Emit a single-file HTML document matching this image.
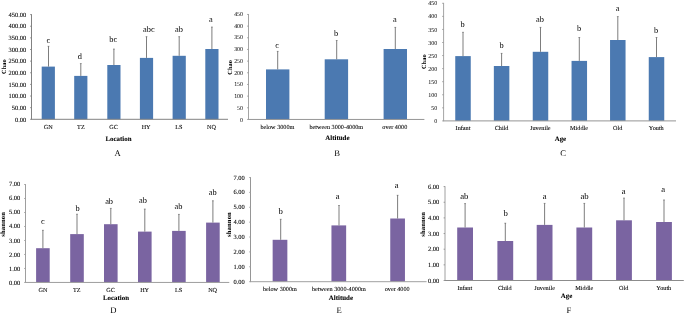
<!DOCTYPE html>
<html><head><meta charset="utf-8"><title>Figure</title>
<style>
html,body{margin:0;padding:0;background:#fff;}
svg{display:block;font-family:"Liberation Serif", "DejaVu Serif", serif;text-rendering:geometricPrecision;}
</style></head><body>
<svg width="685" height="314" viewBox="0 0 685 314">
<defs><filter id="soft" x="0" y="0" width="685" height="314" filterUnits="userSpaceOnUse"><feGaussianBlur stdDeviation="0.0"/></filter></defs>
<rect width="685" height="314" fill="#ffffff"/>
<g filter="url(#soft)">
<rect x="41.70" y="66.60" width="13.20" height="52.70" fill="#4b79b1"/>
<line x1="48.50" y1="66.60" x2="48.50" y2="46.10" stroke="#666666" stroke-width="0.85"/>
<line x1="47.60" y1="46.30" x2="49.40" y2="46.30" stroke="#666666" stroke-width="0.6"/>
<text x="48.30" y="42.60" font-size="8.35" text-anchor="middle" fill="#000000" stroke="#000000" stroke-width="0.0">c</text>
<rect x="74.20" y="75.90" width="13.20" height="43.40" fill="#4b79b1"/>
<line x1="80.80" y1="75.90" x2="80.80" y2="63.40" stroke="#666666" stroke-width="0.85"/>
<line x1="79.90" y1="63.60" x2="81.70" y2="63.60" stroke="#666666" stroke-width="0.6"/>
<text x="79.80" y="58.70" font-size="8.35" text-anchor="middle" fill="#000000" stroke="#000000" stroke-width="0.0">d</text>
<rect x="107.30" y="65.00" width="13.20" height="54.30" fill="#4b79b1"/>
<line x1="113.90" y1="65.00" x2="113.90" y2="48.90" stroke="#666666" stroke-width="0.85"/>
<line x1="113.00" y1="49.10" x2="114.80" y2="49.10" stroke="#666666" stroke-width="0.6"/>
<text x="113.30" y="42.40" font-size="8.35" text-anchor="middle" fill="#000000" stroke="#000000" stroke-width="0.0">bc</text>
<rect x="139.90" y="57.90" width="13.20" height="61.40" fill="#4b79b1"/>
<line x1="146.50" y1="57.90" x2="146.50" y2="36.50" stroke="#666666" stroke-width="0.85"/>
<line x1="145.60" y1="36.70" x2="147.40" y2="36.70" stroke="#666666" stroke-width="0.6"/>
<text x="148.90" y="31.70" font-size="8.35" text-anchor="middle" fill="#000000" stroke="#000000" stroke-width="0.0">abc</text>
<rect x="172.60" y="55.80" width="13.20" height="63.50" fill="#4b79b1"/>
<line x1="179.20" y1="55.80" x2="179.20" y2="36.50" stroke="#666666" stroke-width="0.85"/>
<line x1="178.30" y1="36.70" x2="180.10" y2="36.70" stroke="#666666" stroke-width="0.6"/>
<text x="178.90" y="31.70" font-size="8.35" text-anchor="middle" fill="#000000" stroke="#000000" stroke-width="0.0">ab</text>
<rect x="205.30" y="49.00" width="13.20" height="70.30" fill="#4b79b1"/>
<line x1="211.90" y1="49.00" x2="211.90" y2="26.90" stroke="#666666" stroke-width="0.85"/>
<line x1="211.00" y1="27.10" x2="212.80" y2="27.10" stroke="#666666" stroke-width="0.6"/>
<text x="210.90" y="22.10" font-size="8.35" text-anchor="middle" fill="#000000" stroke="#000000" stroke-width="0.0">a</text>
<line x1="31.50" y1="14.20" x2="31.50" y2="119.75" stroke="#828282" stroke-width="1.0"/>
<line x1="31.50" y1="119.30" x2="228.00" y2="119.30" stroke="#828282" stroke-width="1.0"/>
<line x1="30.10" y1="119.30" x2="31.50" y2="119.30" stroke="#828282" stroke-width="0.85"/>
<text x="26.20" y="121.70" font-size="6.45" text-anchor="end" fill="#000000" stroke="#000000" stroke-width="0.09">0.00</text>
<line x1="30.10" y1="107.67" x2="31.50" y2="107.67" stroke="#828282" stroke-width="0.85"/>
<text x="26.20" y="110.02" font-size="6.45" text-anchor="end" fill="#000000" stroke="#000000" stroke-width="0.09">50.00</text>
<line x1="30.10" y1="96.03" x2="31.50" y2="96.03" stroke="#828282" stroke-width="0.85"/>
<text x="26.20" y="98.34" font-size="6.45" text-anchor="end" fill="#000000" stroke="#000000" stroke-width="0.09">100.00</text>
<line x1="30.10" y1="84.40" x2="31.50" y2="84.40" stroke="#828282" stroke-width="0.85"/>
<text x="26.20" y="86.67" font-size="6.45" text-anchor="end" fill="#000000" stroke="#000000" stroke-width="0.09">150.00</text>
<line x1="30.10" y1="72.77" x2="31.50" y2="72.77" stroke="#828282" stroke-width="0.85"/>
<text x="26.20" y="74.99" font-size="6.45" text-anchor="end" fill="#000000" stroke="#000000" stroke-width="0.09">200.00</text>
<line x1="30.10" y1="61.13" x2="31.50" y2="61.13" stroke="#828282" stroke-width="0.85"/>
<text x="26.20" y="63.31" font-size="6.45" text-anchor="end" fill="#000000" stroke="#000000" stroke-width="0.09">250.00</text>
<line x1="30.10" y1="49.50" x2="31.50" y2="49.50" stroke="#828282" stroke-width="0.85"/>
<text x="26.20" y="51.63" font-size="6.45" text-anchor="end" fill="#000000" stroke="#000000" stroke-width="0.09">300.00</text>
<line x1="30.10" y1="37.87" x2="31.50" y2="37.87" stroke="#828282" stroke-width="0.85"/>
<text x="26.20" y="39.96" font-size="6.45" text-anchor="end" fill="#000000" stroke="#000000" stroke-width="0.09">350.00</text>
<line x1="30.10" y1="26.23" x2="31.50" y2="26.23" stroke="#828282" stroke-width="0.85"/>
<text x="26.20" y="28.28" font-size="6.45" text-anchor="end" fill="#000000" stroke="#000000" stroke-width="0.09">400.00</text>
<line x1="30.10" y1="14.60" x2="31.50" y2="14.60" stroke="#828282" stroke-width="0.85"/>
<text x="26.20" y="16.60" font-size="6.45" text-anchor="end" fill="#000000" stroke="#000000" stroke-width="0.09">450.00</text>
<text x="48.30" y="129.10" font-size="6.2" text-anchor="middle" fill="#000000" stroke="#000000" stroke-width="0.08">GN</text>
<text x="80.90" y="129.10" font-size="6.2" text-anchor="middle" fill="#000000" stroke="#000000" stroke-width="0.08">TZ</text>
<text x="113.50" y="129.10" font-size="6.2" text-anchor="middle" fill="#000000" stroke="#000000" stroke-width="0.08">GC</text>
<text x="146.10" y="129.10" font-size="6.2" text-anchor="middle" fill="#000000" stroke="#000000" stroke-width="0.08">HY</text>
<text x="178.90" y="129.10" font-size="6.2" text-anchor="middle" fill="#000000" stroke="#000000" stroke-width="0.08">LS</text>
<text x="211.50" y="129.10" font-size="6.2" text-anchor="middle" fill="#000000" stroke="#000000" stroke-width="0.08">NQ</text>
<text x="118.50" y="141.20" font-size="6.9" text-anchor="middle" font-weight="bold" fill="#000000" stroke="#000000" stroke-width="0.08">Location</text>
<text x="6.50" y="66.60" font-size="6.3" text-anchor="middle" font-weight="bold" transform="rotate(-90 6.50 66.60)" fill="#000000" stroke="#000000" stroke-width="0.0" letter-spacing="0.1">Chao</text>
<text x="117.50" y="155.70" font-size="8.6" text-anchor="middle" fill="#000000" stroke="#000000" stroke-width="0.0">A</text>
<rect x="266.00" y="69.40" width="23.40" height="50.05" fill="#4b79b1"/>
<line x1="277.70" y1="69.40" x2="277.70" y2="51.20" stroke="#666666" stroke-width="0.85"/>
<line x1="276.80" y1="51.40" x2="278.60" y2="51.40" stroke="#666666" stroke-width="0.6"/>
<text x="277.20" y="47.80" font-size="8.35" text-anchor="middle" fill="#000000" stroke="#000000" stroke-width="0.0">c</text>
<rect x="324.70" y="59.30" width="23.40" height="60.15" fill="#4b79b1"/>
<line x1="336.70" y1="59.30" x2="336.70" y2="40.30" stroke="#666666" stroke-width="0.85"/>
<line x1="335.80" y1="40.50" x2="337.60" y2="40.50" stroke="#666666" stroke-width="0.6"/>
<text x="336.00" y="36.00" font-size="8.35" text-anchor="middle" fill="#000000" stroke="#000000" stroke-width="0.0">b</text>
<rect x="383.60" y="49.00" width="23.40" height="70.45" fill="#4b79b1"/>
<line x1="395.30" y1="49.00" x2="395.30" y2="27.20" stroke="#666666" stroke-width="0.85"/>
<line x1="394.40" y1="27.40" x2="396.20" y2="27.40" stroke="#666666" stroke-width="0.6"/>
<text x="394.80" y="22.20" font-size="8.35" text-anchor="middle" fill="#000000" stroke="#000000" stroke-width="0.0">a</text>
<line x1="248.50" y1="14.05" x2="248.50" y2="119.90" stroke="#a4a4a4" stroke-width="1.0"/>
<line x1="248.50" y1="119.45" x2="424.40" y2="119.45" stroke="#959595" stroke-width="1.0"/>
<line x1="247.10" y1="119.45" x2="248.50" y2="119.45" stroke="#959595" stroke-width="0.85"/>
<text x="243.00" y="121.55" font-size="5.9" text-anchor="end" fill="#111" stroke="#111" stroke-width="0.03">0</text>
<line x1="247.10" y1="107.78" x2="248.50" y2="107.78" stroke="#959595" stroke-width="0.85"/>
<text x="243.00" y="109.82" font-size="5.9" text-anchor="end" fill="#111" stroke="#111" stroke-width="0.03">50</text>
<line x1="247.10" y1="96.12" x2="248.50" y2="96.12" stroke="#959595" stroke-width="0.85"/>
<text x="243.00" y="98.08" font-size="5.9" text-anchor="end" fill="#111" stroke="#111" stroke-width="0.03">100</text>
<line x1="247.10" y1="84.45" x2="248.50" y2="84.45" stroke="#959595" stroke-width="0.85"/>
<text x="243.00" y="86.35" font-size="5.9" text-anchor="end" fill="#111" stroke="#111" stroke-width="0.03">150</text>
<line x1="247.10" y1="72.78" x2="248.50" y2="72.78" stroke="#959595" stroke-width="0.85"/>
<text x="243.00" y="74.62" font-size="5.9" text-anchor="end" fill="#111" stroke="#111" stroke-width="0.03">200</text>
<line x1="247.10" y1="61.12" x2="248.50" y2="61.12" stroke="#959595" stroke-width="0.85"/>
<text x="243.00" y="62.88" font-size="5.9" text-anchor="end" fill="#111" stroke="#111" stroke-width="0.03">250</text>
<line x1="247.10" y1="49.45" x2="248.50" y2="49.45" stroke="#959595" stroke-width="0.85"/>
<text x="243.00" y="51.15" font-size="5.9" text-anchor="end" fill="#111" stroke="#111" stroke-width="0.03">300</text>
<line x1="247.10" y1="37.78" x2="248.50" y2="37.78" stroke="#959595" stroke-width="0.85"/>
<text x="243.00" y="39.42" font-size="5.9" text-anchor="end" fill="#111" stroke="#111" stroke-width="0.03">350</text>
<line x1="247.10" y1="26.12" x2="248.50" y2="26.12" stroke="#959595" stroke-width="0.85"/>
<text x="243.00" y="27.68" font-size="5.9" text-anchor="end" fill="#111" stroke="#111" stroke-width="0.03">400</text>
<line x1="247.10" y1="14.45" x2="248.50" y2="14.45" stroke="#959595" stroke-width="0.85"/>
<text x="243.00" y="15.95" font-size="5.9" text-anchor="end" fill="#111" stroke="#111" stroke-width="0.03">450</text>
<text x="277.40" y="129.00" font-size="6.2" text-anchor="middle" fill="#000000" stroke="#000000" stroke-width="0.08">below 3000m</text>
<text x="336.30" y="129.00" font-size="6.2" text-anchor="middle" fill="#000000" stroke="#000000" stroke-width="0.08">between 3000-4000m</text>
<text x="394.80" y="129.00" font-size="6.2" text-anchor="middle" fill="#000000" stroke="#000000" stroke-width="0.08">over 4000</text>
<text x="337.40" y="140.00" font-size="6.9" text-anchor="middle" font-weight="bold" fill="#000000" stroke="#000000" stroke-width="0.08">Altitude</text>
<text x="232.00" y="67.30" font-size="6.3" text-anchor="middle" font-weight="bold" transform="rotate(-90 232.00 67.30)" fill="#000000" stroke="#000000" stroke-width="0.0" letter-spacing="0.1">Chao</text>
<text x="337.00" y="156.00" font-size="8.6" text-anchor="middle" fill="#000000" stroke="#000000" stroke-width="0.0">B</text>
<rect x="455.25" y="56.10" width="15.50" height="64.80" fill="#4b79b1"/>
<line x1="463.00" y1="56.10" x2="463.00" y2="32.10" stroke="#666666" stroke-width="0.85"/>
<line x1="462.10" y1="32.30" x2="463.90" y2="32.30" stroke="#666666" stroke-width="0.6"/>
<text x="462.60" y="27.40" font-size="8.35" text-anchor="middle" fill="#000000" stroke="#000000" stroke-width="0.0">b</text>
<rect x="493.85" y="66.00" width="15.50" height="54.90" fill="#4b79b1"/>
<line x1="501.60" y1="66.00" x2="501.60" y2="53.20" stroke="#666666" stroke-width="0.85"/>
<line x1="500.70" y1="53.40" x2="502.50" y2="53.40" stroke="#666666" stroke-width="0.6"/>
<text x="501.60" y="47.50" font-size="8.35" text-anchor="middle" fill="#000000" stroke="#000000" stroke-width="0.0">b</text>
<rect x="532.75" y="51.80" width="15.50" height="69.10" fill="#4b79b1"/>
<line x1="540.50" y1="51.80" x2="540.50" y2="27.20" stroke="#666666" stroke-width="0.85"/>
<line x1="539.60" y1="27.40" x2="541.40" y2="27.40" stroke="#666666" stroke-width="0.6"/>
<text x="540.00" y="22.00" font-size="8.35" text-anchor="middle" fill="#000000" stroke="#000000" stroke-width="0.0">ab</text>
<rect x="571.55" y="60.90" width="15.50" height="60.00" fill="#4b79b1"/>
<line x1="579.30" y1="60.90" x2="579.30" y2="37.30" stroke="#666666" stroke-width="0.85"/>
<line x1="578.40" y1="37.50" x2="580.20" y2="37.50" stroke="#666666" stroke-width="0.6"/>
<text x="579.00" y="31.40" font-size="8.35" text-anchor="middle" fill="#000000" stroke="#000000" stroke-width="0.0">b</text>
<rect x="610.05" y="40.00" width="15.50" height="80.90" fill="#4b79b1"/>
<line x1="617.80" y1="40.00" x2="617.80" y2="16.40" stroke="#666666" stroke-width="0.85"/>
<line x1="616.90" y1="16.60" x2="618.70" y2="16.60" stroke="#666666" stroke-width="0.6"/>
<text x="617.50" y="11.20" font-size="8.35" text-anchor="middle" fill="#000000" stroke="#000000" stroke-width="0.0">a</text>
<rect x="648.75" y="57.10" width="15.50" height="63.80" fill="#4b79b1"/>
<line x1="656.50" y1="57.10" x2="656.50" y2="37.30" stroke="#666666" stroke-width="0.85"/>
<line x1="655.60" y1="37.50" x2="657.40" y2="37.50" stroke="#666666" stroke-width="0.6"/>
<text x="656.10" y="33.10" font-size="8.35" text-anchor="middle" fill="#000000" stroke="#000000" stroke-width="0.0">b</text>
<line x1="443.60" y1="2.90" x2="443.60" y2="121.35" stroke="#a4a4a4" stroke-width="1.0"/>
<line x1="443.60" y1="120.90" x2="676.00" y2="120.90" stroke="#949494" stroke-width="1.0"/>
<line x1="442.20" y1="120.90" x2="443.60" y2="120.90" stroke="#949494" stroke-width="0.85"/>
<text x="437.20" y="123.00" font-size="6.0" text-anchor="end" fill="#111" stroke="#111" stroke-width="0.03">0</text>
<line x1="442.20" y1="107.83" x2="443.60" y2="107.83" stroke="#949494" stroke-width="0.85"/>
<text x="437.20" y="109.93" font-size="6.0" text-anchor="end" fill="#111" stroke="#111" stroke-width="0.03">50</text>
<line x1="442.20" y1="94.77" x2="443.60" y2="94.77" stroke="#949494" stroke-width="0.85"/>
<text x="437.20" y="96.87" font-size="6.0" text-anchor="end" fill="#111" stroke="#111" stroke-width="0.03">100</text>
<line x1="442.20" y1="81.70" x2="443.60" y2="81.70" stroke="#949494" stroke-width="0.85"/>
<text x="437.20" y="83.80" font-size="6.0" text-anchor="end" fill="#111" stroke="#111" stroke-width="0.03">150</text>
<line x1="442.20" y1="68.63" x2="443.60" y2="68.63" stroke="#949494" stroke-width="0.85"/>
<text x="437.20" y="70.73" font-size="6.0" text-anchor="end" fill="#111" stroke="#111" stroke-width="0.03">200</text>
<line x1="442.20" y1="55.57" x2="443.60" y2="55.57" stroke="#949494" stroke-width="0.85"/>
<text x="437.20" y="57.67" font-size="6.0" text-anchor="end" fill="#111" stroke="#111" stroke-width="0.03">250</text>
<line x1="442.20" y1="42.50" x2="443.60" y2="42.50" stroke="#949494" stroke-width="0.85"/>
<text x="437.20" y="44.60" font-size="6.0" text-anchor="end" fill="#111" stroke="#111" stroke-width="0.03">300</text>
<line x1="442.20" y1="29.43" x2="443.60" y2="29.43" stroke="#949494" stroke-width="0.85"/>
<text x="437.20" y="31.53" font-size="6.0" text-anchor="end" fill="#111" stroke="#111" stroke-width="0.03">350</text>
<line x1="442.20" y1="16.37" x2="443.60" y2="16.37" stroke="#949494" stroke-width="0.85"/>
<text x="437.20" y="18.47" font-size="6.0" text-anchor="end" fill="#111" stroke="#111" stroke-width="0.03">400</text>
<line x1="442.20" y1="3.30" x2="443.60" y2="3.30" stroke="#949494" stroke-width="0.85"/>
<text x="437.20" y="5.40" font-size="6.0" text-anchor="end" fill="#111" stroke="#111" stroke-width="0.03">450</text>
<text x="463.00" y="130.20" font-size="6.2" text-anchor="middle" fill="#000000" stroke="#000000" stroke-width="0.08">Infant</text>
<text x="501.60" y="130.20" font-size="6.2" text-anchor="middle" fill="#000000" stroke="#000000" stroke-width="0.08">Child</text>
<text x="540.30" y="130.20" font-size="6.2" text-anchor="middle" fill="#000000" stroke="#000000" stroke-width="0.08">Juvenile</text>
<text x="579.00" y="130.20" font-size="6.2" text-anchor="middle" fill="#000000" stroke="#000000" stroke-width="0.08">Middle</text>
<text x="617.60" y="130.20" font-size="6.2" text-anchor="middle" fill="#000000" stroke="#000000" stroke-width="0.08">Old</text>
<text x="656.30" y="130.20" font-size="6.2" text-anchor="middle" fill="#000000" stroke="#000000" stroke-width="0.08">Youth</text>
<text x="560.40" y="141.40" font-size="6.9" text-anchor="middle" font-weight="bold" fill="#000000" stroke="#000000" stroke-width="0.08">Age</text>
<text x="425.90" y="61.70" font-size="6.3" text-anchor="middle" font-weight="bold" transform="rotate(-90 425.90 61.70)" fill="#000000" stroke="#000000" stroke-width="0.0" letter-spacing="0.1">Chao</text>
<text x="563.10" y="156.00" font-size="8.6" text-anchor="middle" fill="#000000" stroke="#000000" stroke-width="0.0">C</text>
<rect x="36.10" y="248.20" width="13.60" height="34.25" fill="#7a64a1"/>
<line x1="42.90" y1="248.20" x2="42.90" y2="230.10" stroke="#666666" stroke-width="0.85"/>
<line x1="42.00" y1="230.30" x2="43.80" y2="230.30" stroke="#666666" stroke-width="0.6"/>
<text x="42.90" y="224.30" font-size="8.35" text-anchor="middle" fill="#000000" stroke="#000000" stroke-width="0.0">c</text>
<rect x="70.20" y="234.10" width="13.60" height="48.35" fill="#7a64a1"/>
<line x1="77.00" y1="234.10" x2="77.00" y2="214.00" stroke="#666666" stroke-width="0.85"/>
<line x1="76.10" y1="214.20" x2="77.90" y2="214.20" stroke="#666666" stroke-width="0.6"/>
<text x="77.60" y="211.20" font-size="8.35" text-anchor="middle" fill="#000000" stroke="#000000" stroke-width="0.0">b</text>
<rect x="104.00" y="224.20" width="13.60" height="58.25" fill="#7a64a1"/>
<line x1="110.80" y1="224.20" x2="110.80" y2="208.20" stroke="#666666" stroke-width="0.85"/>
<line x1="109.90" y1="208.40" x2="111.70" y2="208.40" stroke="#666666" stroke-width="0.6"/>
<text x="109.10" y="204.20" font-size="8.35" text-anchor="middle" fill="#000000" stroke="#000000" stroke-width="0.0">ab</text>
<rect x="138.00" y="231.60" width="13.60" height="50.85" fill="#7a64a1"/>
<line x1="144.80" y1="231.60" x2="144.80" y2="208.90" stroke="#666666" stroke-width="0.85"/>
<line x1="143.90" y1="209.10" x2="145.70" y2="209.10" stroke="#666666" stroke-width="0.6"/>
<text x="143.00" y="202.70" font-size="8.35" text-anchor="middle" fill="#000000" stroke="#000000" stroke-width="0.0">ab</text>
<rect x="172.10" y="230.90" width="13.60" height="51.55" fill="#7a64a1"/>
<line x1="178.90" y1="230.90" x2="178.90" y2="214.20" stroke="#666666" stroke-width="0.85"/>
<line x1="178.00" y1="214.40" x2="179.80" y2="214.40" stroke="#666666" stroke-width="0.6"/>
<text x="178.40" y="208.90" font-size="8.35" text-anchor="middle" fill="#000000" stroke="#000000" stroke-width="0.0">ab</text>
<rect x="206.10" y="222.60" width="13.60" height="59.85" fill="#7a64a1"/>
<line x1="212.90" y1="222.60" x2="212.90" y2="200.60" stroke="#666666" stroke-width="0.85"/>
<line x1="212.00" y1="200.80" x2="213.80" y2="200.80" stroke="#666666" stroke-width="0.6"/>
<text x="212.80" y="194.60" font-size="8.35" text-anchor="middle" fill="#000000" stroke="#000000" stroke-width="0.0">ab</text>
<line x1="25.50" y1="184.10" x2="25.50" y2="282.90" stroke="#9e9e9e" stroke-width="1.0"/>
<line x1="25.50" y1="282.45" x2="229.30" y2="282.45" stroke="#9e9e9e" stroke-width="1.0"/>
<line x1="24.10" y1="282.45" x2="25.50" y2="282.45" stroke="#9e9e9e" stroke-width="0.85"/>
<text x="20.20" y="284.65" font-size="6.45" text-anchor="end" fill="#000000" stroke="#000000" stroke-width="0.09">0.00</text>
<line x1="24.10" y1="268.46" x2="25.50" y2="268.46" stroke="#9e9e9e" stroke-width="0.85"/>
<text x="20.20" y="270.60" font-size="6.45" text-anchor="end" fill="#000000" stroke="#000000" stroke-width="0.09">1.00</text>
<line x1="24.10" y1="254.46" x2="25.50" y2="254.46" stroke="#9e9e9e" stroke-width="0.85"/>
<text x="20.20" y="256.55" font-size="6.45" text-anchor="end" fill="#000000" stroke="#000000" stroke-width="0.09">2.00</text>
<line x1="24.10" y1="240.47" x2="25.50" y2="240.47" stroke="#9e9e9e" stroke-width="0.85"/>
<text x="20.20" y="242.50" font-size="6.45" text-anchor="end" fill="#000000" stroke="#000000" stroke-width="0.09">3.00</text>
<line x1="24.10" y1="226.48" x2="25.50" y2="226.48" stroke="#9e9e9e" stroke-width="0.85"/>
<text x="20.20" y="228.45" font-size="6.45" text-anchor="end" fill="#000000" stroke="#000000" stroke-width="0.09">4.00</text>
<line x1="24.10" y1="212.49" x2="25.50" y2="212.49" stroke="#9e9e9e" stroke-width="0.85"/>
<text x="20.20" y="214.40" font-size="6.45" text-anchor="end" fill="#000000" stroke="#000000" stroke-width="0.09">5.00</text>
<line x1="24.10" y1="198.49" x2="25.50" y2="198.49" stroke="#9e9e9e" stroke-width="0.85"/>
<text x="20.20" y="200.35" font-size="6.45" text-anchor="end" fill="#000000" stroke="#000000" stroke-width="0.09">6.00</text>
<line x1="24.10" y1="184.50" x2="25.50" y2="184.50" stroke="#9e9e9e" stroke-width="0.85"/>
<text x="20.20" y="186.30" font-size="6.45" text-anchor="end" fill="#000000" stroke="#000000" stroke-width="0.09">7.00</text>
<text x="42.90" y="292.40" font-size="6.2" text-anchor="middle" fill="#000000" stroke="#000000" stroke-width="0.08">GN</text>
<text x="76.80" y="292.40" font-size="6.2" text-anchor="middle" fill="#000000" stroke="#000000" stroke-width="0.08">TZ</text>
<text x="110.60" y="292.40" font-size="6.2" text-anchor="middle" fill="#000000" stroke="#000000" stroke-width="0.08">GC</text>
<text x="144.60" y="292.40" font-size="6.2" text-anchor="middle" fill="#000000" stroke="#000000" stroke-width="0.08">HY</text>
<text x="178.60" y="292.40" font-size="6.2" text-anchor="middle" fill="#000000" stroke="#000000" stroke-width="0.08">LS</text>
<text x="212.60" y="292.40" font-size="6.2" text-anchor="middle" fill="#000000" stroke="#000000" stroke-width="0.08">NQ</text>
<text x="116.00" y="300.20" font-size="6.9" text-anchor="middle" font-weight="bold" fill="#000000" stroke="#000000" stroke-width="0.08">Location</text>
<text x="5.40" y="224.30" font-size="6.7" text-anchor="middle" font-weight="bold" transform="rotate(-90 5.40 224.30)" fill="#000000" stroke="#000000" stroke-width="0.0" letter-spacing="0.1">shannon</text>
<text x="113.40" y="313.00" font-size="8.6" text-anchor="middle" fill="#000000" stroke="#000000" stroke-width="0.0">D</text>
<rect x="272.65" y="239.80" width="14.70" height="41.90" fill="#7a64a1"/>
<line x1="280.70" y1="239.80" x2="280.70" y2="219.10" stroke="#666666" stroke-width="0.85"/>
<line x1="279.80" y1="219.30" x2="281.60" y2="219.30" stroke="#666666" stroke-width="0.6"/>
<text x="280.70" y="214.00" font-size="8.7" text-anchor="middle" fill="#000000" stroke="#000000" stroke-width="0.0">b</text>
<rect x="331.45" y="225.40" width="14.70" height="56.30" fill="#7a64a1"/>
<line x1="339.00" y1="225.40" x2="339.00" y2="205.30" stroke="#666666" stroke-width="0.85"/>
<line x1="338.10" y1="205.50" x2="339.90" y2="205.50" stroke="#666666" stroke-width="0.6"/>
<text x="337.80" y="199.30" font-size="8.7" text-anchor="middle" fill="#000000" stroke="#000000" stroke-width="0.0">a</text>
<rect x="390.25" y="218.50" width="14.70" height="63.20" fill="#7a64a1"/>
<line x1="397.60" y1="218.50" x2="397.60" y2="195.10" stroke="#666666" stroke-width="0.85"/>
<line x1="396.70" y1="195.30" x2="398.50" y2="195.30" stroke="#666666" stroke-width="0.6"/>
<text x="396.60" y="188.40" font-size="8.7" text-anchor="middle" fill="#000000" stroke="#000000" stroke-width="0.0">a</text>
<line x1="250.50" y1="177.10" x2="250.50" y2="282.15" stroke="#969696" stroke-width="1.0"/>
<line x1="250.50" y1="281.70" x2="426.60" y2="281.70" stroke="#a0a0a0" stroke-width="1.0"/>
<line x1="249.10" y1="281.70" x2="250.50" y2="281.70" stroke="#a0a0a0" stroke-width="0.85"/>
<text x="244.80" y="284.10" font-size="6.45" text-anchor="end" fill="#000000" stroke="#000000" stroke-width="0.09">0.00</text>
<line x1="249.10" y1="266.81" x2="250.50" y2="266.81" stroke="#a0a0a0" stroke-width="0.85"/>
<text x="244.80" y="269.16" font-size="6.45" text-anchor="end" fill="#000000" stroke="#000000" stroke-width="0.09">1.00</text>
<line x1="249.10" y1="251.93" x2="250.50" y2="251.93" stroke="#a0a0a0" stroke-width="0.85"/>
<text x="244.80" y="254.21" font-size="6.45" text-anchor="end" fill="#000000" stroke="#000000" stroke-width="0.09">2.00</text>
<line x1="249.10" y1="237.04" x2="250.50" y2="237.04" stroke="#a0a0a0" stroke-width="0.85"/>
<text x="244.80" y="239.27" font-size="6.45" text-anchor="end" fill="#000000" stroke="#000000" stroke-width="0.09">3.00</text>
<line x1="249.10" y1="222.16" x2="250.50" y2="222.16" stroke="#a0a0a0" stroke-width="0.85"/>
<text x="244.80" y="224.33" font-size="6.45" text-anchor="end" fill="#000000" stroke="#000000" stroke-width="0.09">4.00</text>
<line x1="249.10" y1="207.27" x2="250.50" y2="207.27" stroke="#a0a0a0" stroke-width="0.85"/>
<text x="244.80" y="209.39" font-size="6.45" text-anchor="end" fill="#000000" stroke="#000000" stroke-width="0.09">5.00</text>
<line x1="249.10" y1="192.39" x2="250.50" y2="192.39" stroke="#a0a0a0" stroke-width="0.85"/>
<text x="244.80" y="194.44" font-size="6.45" text-anchor="end" fill="#000000" stroke="#000000" stroke-width="0.09">6.00</text>
<line x1="249.10" y1="177.50" x2="250.50" y2="177.50" stroke="#a0a0a0" stroke-width="0.85"/>
<text x="244.80" y="179.50" font-size="6.45" text-anchor="end" fill="#000000" stroke="#000000" stroke-width="0.09">7.00</text>
<text x="279.90" y="290.90" font-size="6.2" text-anchor="middle" fill="#000000" stroke="#000000" stroke-width="0.08">below 3000m</text>
<text x="338.90" y="290.90" font-size="6.2" text-anchor="middle" fill="#000000" stroke="#000000" stroke-width="0.08">between 3000-4000m</text>
<text x="397.20" y="290.90" font-size="6.2" text-anchor="middle" fill="#000000" stroke="#000000" stroke-width="0.08">over 4000</text>
<text x="340.90" y="300.30" font-size="6.9" text-anchor="middle" font-weight="bold" fill="#000000" stroke="#000000" stroke-width="0.08">Altitude</text>
<text x="230.70" y="224.50" font-size="6.7" text-anchor="middle" font-weight="bold" transform="rotate(-90 230.70 224.50)" fill="#000000" stroke="#000000" stroke-width="0.0" letter-spacing="0.1">shannon</text>
<text x="339.20" y="312.90" font-size="8.6" text-anchor="middle" fill="#000000" stroke="#000000" stroke-width="0.0">E</text>
<rect x="457.20" y="227.50" width="15.80" height="53.00" fill="#7a64a1"/>
<line x1="465.10" y1="227.50" x2="465.10" y2="203.40" stroke="#666666" stroke-width="0.85"/>
<line x1="464.20" y1="203.60" x2="466.00" y2="203.60" stroke="#666666" stroke-width="0.6"/>
<text x="464.30" y="199.20" font-size="8.7" text-anchor="middle" fill="#000000" stroke="#000000" stroke-width="0.0">ab</text>
<rect x="497.40" y="241.00" width="15.80" height="39.50" fill="#7a64a1"/>
<line x1="505.30" y1="241.00" x2="505.30" y2="223.00" stroke="#666666" stroke-width="0.85"/>
<line x1="504.40" y1="223.20" x2="506.20" y2="223.20" stroke="#666666" stroke-width="0.6"/>
<text x="505.70" y="215.90" font-size="8.7" text-anchor="middle" fill="#000000" stroke="#000000" stroke-width="0.0">b</text>
<rect x="536.70" y="224.90" width="15.80" height="55.60" fill="#7a64a1"/>
<line x1="544.60" y1="224.90" x2="544.60" y2="203.20" stroke="#666666" stroke-width="0.85"/>
<line x1="543.70" y1="203.40" x2="545.50" y2="203.40" stroke="#666666" stroke-width="0.6"/>
<text x="544.60" y="199.10" font-size="8.7" text-anchor="middle" fill="#000000" stroke="#000000" stroke-width="0.0">a</text>
<rect x="576.40" y="227.50" width="15.80" height="53.00" fill="#7a64a1"/>
<line x1="584.30" y1="227.50" x2="584.30" y2="203.20" stroke="#666666" stroke-width="0.85"/>
<line x1="583.40" y1="203.40" x2="585.20" y2="203.40" stroke="#666666" stroke-width="0.6"/>
<text x="584.50" y="199.10" font-size="8.7" text-anchor="middle" fill="#000000" stroke="#000000" stroke-width="0.0">ab</text>
<rect x="616.10" y="220.30" width="15.80" height="60.20" fill="#7a64a1"/>
<line x1="624.00" y1="220.30" x2="624.00" y2="197.90" stroke="#666666" stroke-width="0.85"/>
<line x1="623.10" y1="198.10" x2="624.90" y2="198.10" stroke="#666666" stroke-width="0.6"/>
<text x="623.60" y="193.60" font-size="8.7" text-anchor="middle" fill="#000000" stroke="#000000" stroke-width="0.0">a</text>
<rect x="656.10" y="222.00" width="15.80" height="58.50" fill="#7a64a1"/>
<line x1="664.00" y1="222.00" x2="664.00" y2="199.80" stroke="#666666" stroke-width="0.85"/>
<line x1="663.10" y1="200.00" x2="664.90" y2="200.00" stroke="#666666" stroke-width="0.6"/>
<text x="663.10" y="191.60" font-size="8.7" text-anchor="middle" fill="#000000" stroke="#000000" stroke-width="0.0">a</text>
<line x1="445.00" y1="186.20" x2="445.00" y2="280.95" stroke="#a0a0a0" stroke-width="1.0"/>
<line x1="445.00" y1="280.50" x2="683.80" y2="280.50" stroke="#8c8c8c" stroke-width="1.0"/>
<line x1="443.60" y1="280.50" x2="445.00" y2="280.50" stroke="#8c8c8c" stroke-width="0.85"/>
<text x="439.30" y="282.90" font-size="6.45" text-anchor="end" fill="#000000" stroke="#000000" stroke-width="0.09">0.00</text>
<line x1="443.60" y1="264.85" x2="445.00" y2="264.85" stroke="#8c8c8c" stroke-width="0.85"/>
<text x="439.30" y="267.18" font-size="6.45" text-anchor="end" fill="#000000" stroke="#000000" stroke-width="0.09">1.00</text>
<line x1="443.60" y1="249.20" x2="445.00" y2="249.20" stroke="#8c8c8c" stroke-width="0.85"/>
<text x="439.30" y="251.47" font-size="6.45" text-anchor="end" fill="#000000" stroke="#000000" stroke-width="0.09">2.00</text>
<line x1="443.60" y1="233.55" x2="445.00" y2="233.55" stroke="#8c8c8c" stroke-width="0.85"/>
<text x="439.30" y="235.75" font-size="6.45" text-anchor="end" fill="#000000" stroke="#000000" stroke-width="0.09">3.00</text>
<line x1="443.60" y1="217.90" x2="445.00" y2="217.90" stroke="#8c8c8c" stroke-width="0.85"/>
<text x="439.30" y="220.03" font-size="6.45" text-anchor="end" fill="#000000" stroke="#000000" stroke-width="0.09">4.00</text>
<line x1="443.60" y1="202.25" x2="445.00" y2="202.25" stroke="#8c8c8c" stroke-width="0.85"/>
<text x="439.30" y="204.32" font-size="6.45" text-anchor="end" fill="#000000" stroke="#000000" stroke-width="0.09">5.00</text>
<line x1="443.60" y1="186.60" x2="445.00" y2="186.60" stroke="#8c8c8c" stroke-width="0.85"/>
<text x="439.30" y="188.60" font-size="6.45" text-anchor="end" fill="#000000" stroke="#000000" stroke-width="0.09">6.00</text>
<text x="464.80" y="290.00" font-size="6.2" text-anchor="middle" fill="#000000" stroke="#000000" stroke-width="0.08">Infant</text>
<text x="504.80" y="290.00" font-size="6.2" text-anchor="middle" fill="#000000" stroke="#000000" stroke-width="0.08">Child</text>
<text x="544.60" y="290.00" font-size="6.2" text-anchor="middle" fill="#000000" stroke="#000000" stroke-width="0.08">Juvenile</text>
<text x="584.30" y="290.00" font-size="6.2" text-anchor="middle" fill="#000000" stroke="#000000" stroke-width="0.08">Middle</text>
<text x="623.60" y="290.00" font-size="6.2" text-anchor="middle" fill="#000000" stroke="#000000" stroke-width="0.08">Old</text>
<text x="663.80" y="290.00" font-size="6.2" text-anchor="middle" fill="#000000" stroke="#000000" stroke-width="0.08">Youth</text>
<text x="566.50" y="297.60" font-size="6.9" text-anchor="middle" font-weight="bold" fill="#000000" stroke="#000000" stroke-width="0.08">Age</text>
<text x="425.20" y="224.30" font-size="6.7" text-anchor="middle" font-weight="bold" transform="rotate(-90 425.20 224.30)" fill="#000000" stroke="#000000" stroke-width="0.0" letter-spacing="0.1">shannon</text>
<text x="568.90" y="312.80" font-size="8.6" text-anchor="middle" fill="#000000" stroke="#000000" stroke-width="0.0">F</text>
</g>
</svg>
</body></html>
